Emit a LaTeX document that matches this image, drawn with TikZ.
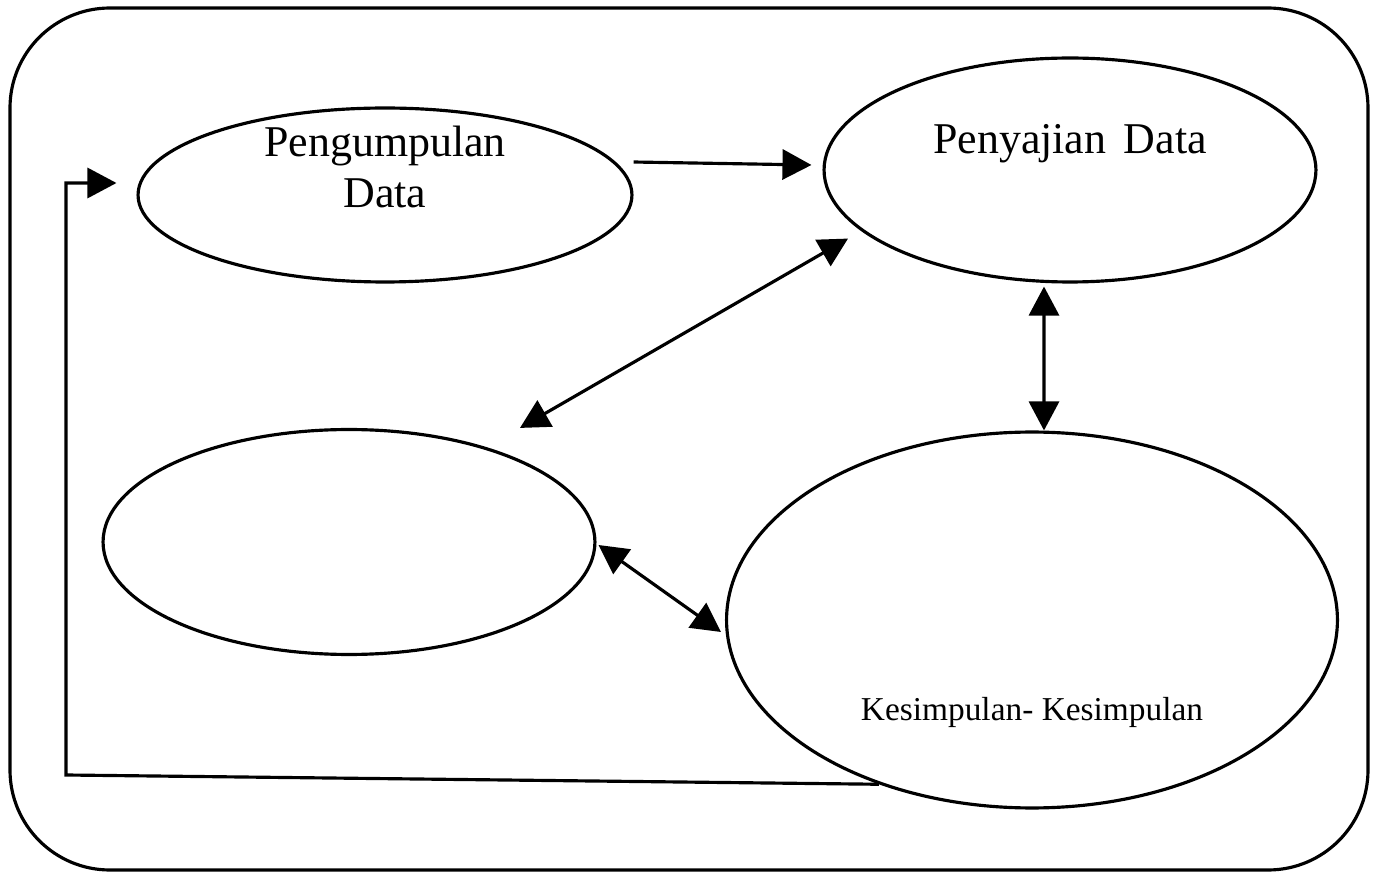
\documentclass[tikz,border=0pt]{standalone}
\usepackage{fontspec}
\setmainfont{Liberation Serif}
\usetikzlibrary{shapes.geometric, arrows.meta}

\tikzset{
  stage/.style={ellipse, draw, line width=1.8pt, inner sep=0pt},
  arr/.style={line width=1.8pt, -{Triangle[length=0.58cm,width=0.6cm]}},
  biarr/.style={line width=1.8pt,
    {Triangle[length=0.58cm,width=0.6cm]}-{Triangle[length=0.58cm,width=0.6cm]}},
  lbl/.style={align=center, font=\fontsize{25}{29}\selectfont},
}

\begin{document}
\begin{tikzpicture}[x=0.02cm, y=-0.02cm]
    \useasboundingbox (0,0) rectangle (1377,878);

    % outer frame
    \draw[line width=1.8pt, rounded corners=2cm] (10,8) rectangle (1368,870);

    % the four stages
    \node[stage, minimum width=9.88cm, minimum height=3.48cm] (coll) at (385,195) {};
    \node[stage, minimum width=9.84cm, minimum height=4.48cm] (disp) at (1070,170) {};
    \node[stage, minimum width=9.84cm, minimum height=4.5cm] (red) at (349,542) {};
    \node[stage, minimum width=12.22cm, minimum height=7.52cm] (concl) at (1032,620) {};

    \node[lbl] (colltext) at (385,167) {Pengumpulan\\Data};
    \node[lbl] (disptext) at (1070,144) {Penyajian\hspace{0.15em} Data};
    \node[font=\fontsize{19}{22}\selectfont] (concltext) at (1032,712) {Kesimpulan- Kesimpulan};

    % connectors
    \draw[arr] ([yshift=0.66cm]coll.east) -- ([xshift=-0.22cm, yshift=0.1cm]disp.west);
    \draw[biarr] ([xshift=3.42cm]red.north) -- ([xshift=-4.44cm, yshift=0.9cm]disp.south);
    \draw[biarr] ([xshift=-0.52cm, yshift=-0.06cm]disp.south) -- ([xshift=0.24cm]concl.north);
    \draw[biarr] ([xshift=0.04cm, yshift=-0.06cm]red.east) -- ([xshift=-0.08cm, yshift=-0.24cm]concl.west);

    % feedback loop
    \coordinate (loop) at (66,775);
    \draw[arr] (concl.227) -- (loop) |- ([xshift=-0.4cm, yshift=0.24cm]coll.west);
\end{tikzpicture}
\end{document}
